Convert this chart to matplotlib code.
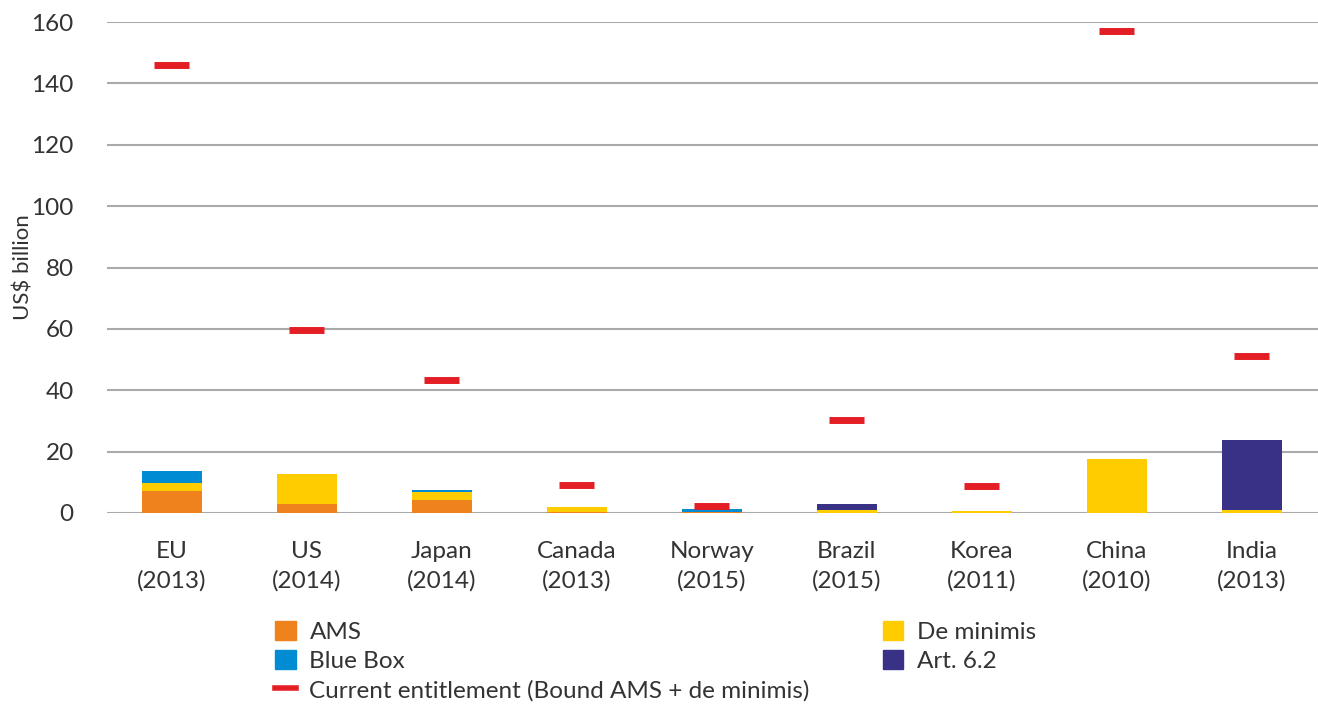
import numpy as np
import matplotlib
matplotlib.use("Agg")
import matplotlib.pyplot as plt
from matplotlib.patches import Patch
from matplotlib.lines import Line2D

plt.rcParams['font.family'] = ['Lato', 'DejaVu Sans']

countries = ["EU\n(2013)", "US\n(2014)", "Japan\n(2014)", "Canada\n(2013)", "Norway\n(2015)",
             "Brazil\n(2015)", "Korea\n(2011)", "China\n(2010)", "India\n(2013)"]
ams = [7.3, 2.9, 4.2, 0.2, 0.4, 0.0, 0.0, 0.0, 0.0]
de_minimis = [2.6, 9.8, 2.6, 1.8, 0.0, 1.0, 0.5, 17.6, 1.0]
blue_box = [3.8, 0.0, 0.7, 0.0, 0.9, 0.0, 0.0, 0.0, 0.0]
art_62 = [0.0, 0.0, 0.0, 0.0, 0.0, 2.0, 0.3, 0.0, 22.8]
entitlement = [145.9, 59.6, 43.3, 9.1, 2.2, 30.3, 8.8, 157.0, 51.1]
yticks = [0, 20, 40, 60, 80, 100, 120, 140, 160]

c_ams = "#f0821e"
c_dm = "#ffcc00"
c_bb = "#008bd2"
c_art = "#393185"
c_ent = "#e31e24"
txt = "#333333"

fig = plt.figure(figsize=(13.18, 7.06), dpi=100)
ax = fig.add_axes([0.0812, 0.2734, 0.9188, 0.6954])

x = np.arange(len(countries))
w = 0.44
ams = np.array(ams); de_minimis = np.array(de_minimis)
blue_box = np.array(blue_box); art_62 = np.array(art_62)

# stacking order: AMS, de minimis, blue box / art. 6.2 on top
ax.bar(x, ams, w, color=c_ams, zorder=3)
ax.bar(x, de_minimis, w, bottom=ams, color=c_dm, zorder=3)
ax.bar(x, blue_box, w, bottom=ams + de_minimis, color=c_bb, zorder=3)
ax.bar(x, art_62, w, bottom=ams + de_minimis + blue_box, color=c_art, zorder=3)
ax.hlines(entitlement, x - 0.13, x + 0.13, colors=c_ent, lw=5, zorder=4)

ax.set_ylim(0, 160)
ax.set_xlim(-0.48, 8.49)
ax.set_yticks(yticks)
ax.set_xticks(x)
ax.set_xticklabels(countries, fontsize=17.5, color=txt, linespacing=1.45)
ax.tick_params(axis='y', labelsize=17.5, labelcolor=txt, length=0, pad=24)
ax.tick_params(axis='x', length=0, pad=20)
ax.yaxis.grid(True, color="#aaaaaa", lw=1.5, zorder=0)
ax.set_axisbelow(True)
for s in ax.spines.values():
    s.set_visible(False)
ax.set_ylabel("US$ billion", fontsize=16, color=txt)
ax.yaxis.set_label_coords(-0.061, 0.5)

handles = [
    Patch(color=c_ams, label="AMS"),
    Patch(color=c_bb, label="Blue Box"),
    Line2D([], [], color=c_ent, lw=4, label="Current entitlement (Bound AMS + de minimis)"),
    Patch(color=c_dm, label="De minimis"),
    Patch(color=c_art, label="Art. 6.2"),
]
leg = fig.legend(handles=handles, ncol=2, loc="upper left", bbox_to_anchor=(0.209, 0.121),
                 frameon=False, fontsize=17.5, handlelength=0.85, handleheight=0.85,
                 handletextpad=0.55, columnspacing=3.0, labelspacing=0.3,
                 borderaxespad=0, borderpad=0)
for t in leg.get_texts():
    t.set_color(txt)

fig.savefig("out.png", dpi=100)
